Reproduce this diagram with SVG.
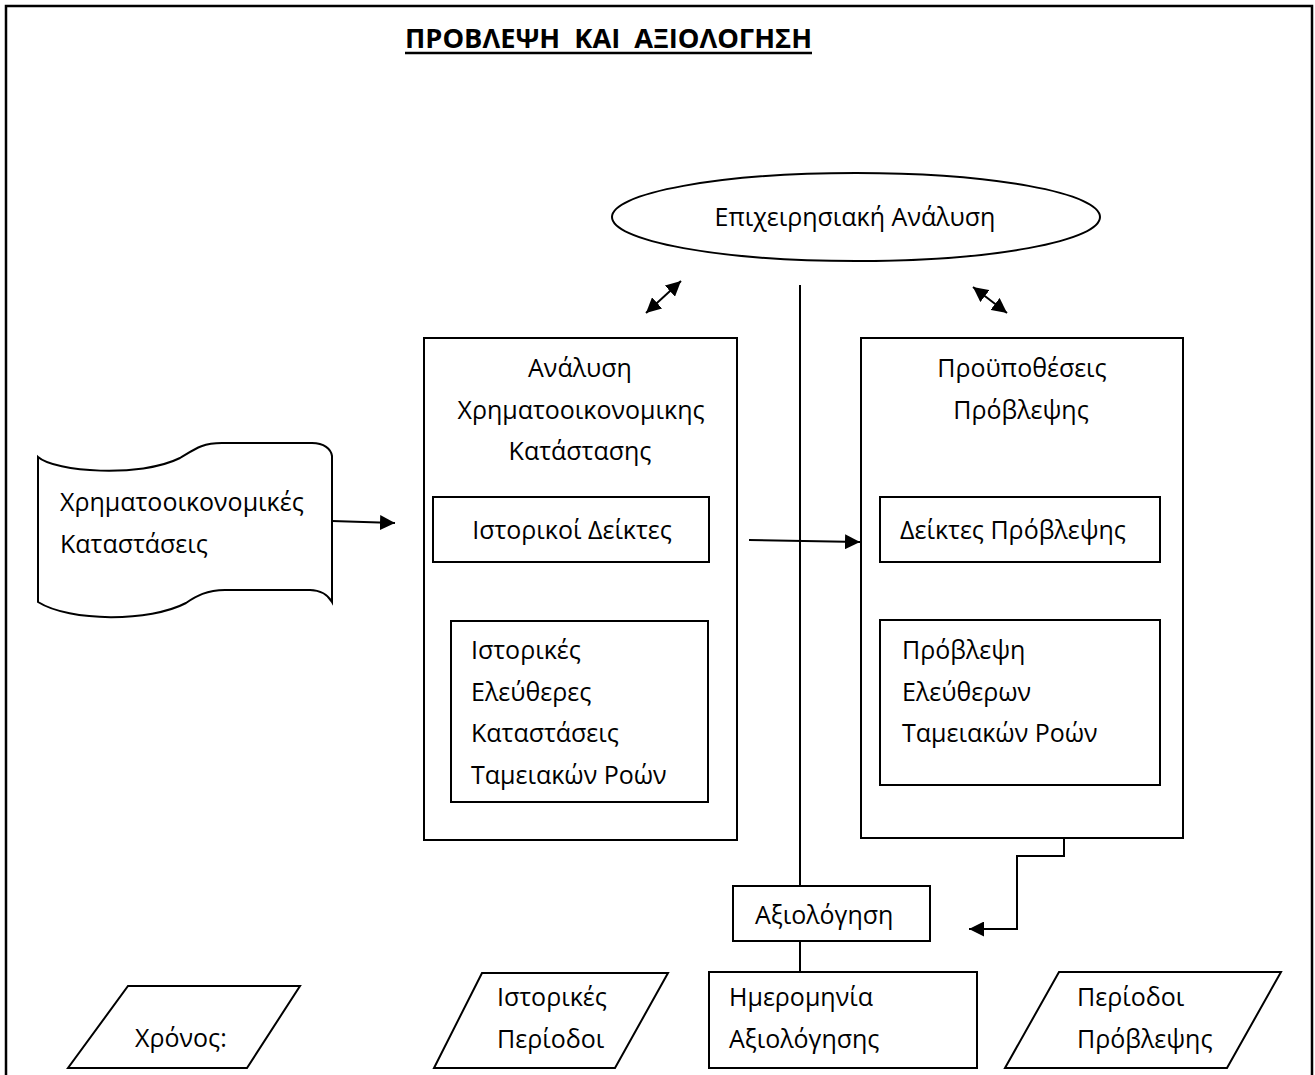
<svg xmlns="http://www.w3.org/2000/svg" width="1315" height="1075" viewBox="0 0 1315 1075">
<defs>
<style>
.s{fill:none;stroke:#000;stroke-width:2}
.b{fill:#fff;stroke:#000;stroke-width:2}
.t{font-family:"Open Sans","Noto Sans","DejaVu Sans",sans-serif;font-size:25px;fill:#000}
.m{text-anchor:middle}
.title{font-family:"Open Sans","Noto Sans","DejaVu Sans",sans-serif;font-size:27px;font-weight:bold;fill:#000}
.c{fill:none;stroke:#000;stroke-width:2}
</style>
<marker id="ah" viewBox="0 0 10 10" refX="10" refY="5" markerWidth="7.5" markerHeight="7.5" markerUnits="strokeWidth" orient="auto-start-reverse">
<path d="M0,0 L10,5 L0,10 Z" fill="#000"/>
</marker>
</defs>
<rect x="0" y="0" width="1315" height="1075" fill="#fff"/>
<path d="M6,1075 L6,6 L1312,6 L1312,1075" fill="none" stroke="#000" stroke-width="2.5"/>

<g id="title">
<text class="title" x="405" y="48" xml:space="preserve" textLength="407" lengthAdjust="spacingAndGlyphs">ΠΡΟΒΛΕΨΗ  ΚΑΙ  ΑΞΙΟΛΟΓΗΣΗ</text>
<line x1="405" y1="53" x2="812" y2="53" stroke="#000" stroke-width="2.5"/>
</g>

<g id="connectors">
<line class="c" x1="800" y1="285" x2="800" y2="886"/>
<line class="c" x1="800" y1="941" x2="800" y2="972"/>
<line class="c" x1="646" y1="313" x2="681" y2="281" marker-start="url(#ah)" marker-end="url(#ah)"/>
<line class="c" x1="973" y1="287" x2="1007" y2="313" marker-start="url(#ah)" marker-end="url(#ah)"/>
<line class="c" x1="332" y1="521" x2="395" y2="523" marker-end="url(#ah)"/>
<line class="c" x1="749" y1="540" x2="860" y2="542" marker-end="url(#ah)"/>
<line class="c" x1="570" y1="604" x2="570" y2="578" marker-end="url(#ah)"/>
<line class="c" x1="1021" y1="578" x2="1021" y2="604" marker-end="url(#ah)"/>
<polyline class="c" points="1064,839 1064,856 1017,856 1017,929 969,929" marker-end="url(#ah)"/>
</g>

<g id="epixeirisiaki">
<ellipse class="b" cx="856" cy="217" rx="244" ry="44"/>
<text class="t m" x="855" y="226">Επιχειρησιακή Ανάλυση</text>
</g>

<g id="xrimatooikonomikes">
<path class="b" d="M38,457 C55,472 140,478 180,458 C195,449 202,443 222,443 L312,443 C324,443 331,449 332,456 L332,602 C328,595 320,590 310,590 L225,590 C207,590 196,596 186,603 C150,622 70,622 38,602 Z"/>
<text class="t" x="60" y="511">Χρηματοοικονομικές</text>
<text class="t" x="60" y="553">Καταστάσεις</text>
</g>

<g id="analysi">
<rect class="b" x="424" y="338" width="313" height="502"/>
<text class="t m" x="580" y="377">Ανάλυση</text>
<text class="t m" x="581" y="419">Χρηματοοικονομικης</text>
<text class="t m" x="580" y="460">Κατάστασης</text>
</g>

<g id="istorikoi-deiktes">
<rect class="b" x="433" y="497" width="276" height="65"/>
<text class="t m" x="572" y="539">Ιστορικοί Δείκτες</text>
</g>

<g id="istorikes-roes">
<rect class="b" x="451" y="621" width="257" height="181"/>
<text class="t" x="471" y="659">Ιστορικές</text>
<text class="t" x="471" y="701">Ελεύθερες</text>
<text class="t" x="471" y="742">Καταστάσεις</text>
<text class="t" x="471" y="784">Ταμειακών Ροών</text>
</g>

<g id="proypotheseis">
<rect class="b" x="861" y="338" width="322" height="500"/>
<text class="t m" x="1022" y="377">Προϋποθέσεις</text>
<text class="t m" x="1021" y="419">Πρόβλεψης</text>
</g>

<g id="deiktes-provlepsis">
<rect class="b" x="880" y="497" width="280" height="65"/>
<text class="t m" x="1013" y="539">Δείκτες Πρόβλεψης</text>
</g>

<g id="provlepsi-roes">
<rect class="b" x="880" y="620" width="280" height="165"/>
<text class="t" x="902" y="659">Πρόβλεψη</text>
<text class="t" x="902" y="701">Ελεύθερων</text>
<text class="t" x="902" y="742">Ταμειακών Ροών</text>
</g>

<g id="axiologisi">
<rect class="b" x="733" y="886" width="197" height="55"/>
<text class="t" x="755" y="924">Αξιολόγηση</text>
</g>

<g id="xronos">
<polygon class="b" points="128,986 300,986 247,1068 68,1068"/>
<text class="t" x="135" y="1047">Χρόνος:</text>
</g>

<g id="istorikes-periodoi">
<polygon class="b" points="482,973 668,973 615,1068 434,1068"/>
<text class="t" x="497" y="1006">Ιστορικές</text>
<text class="t" x="497" y="1048">Περίοδοι</text>
</g>

<g id="imerominia">
<rect class="b" x="709" y="972" width="268" height="96"/>
<text class="t" x="729" y="1006">Ημερομηνία</text>
<text class="t" x="729" y="1048">Αξιολόγησης</text>
</g>

<g id="periodoi-provlepsis">
<polygon class="b" points="1059,972 1281,972 1227,1068 1005,1068"/>
<text class="t" x="1077" y="1006">Περίοδοι</text>
<text class="t" x="1077" y="1048">Πρόβλεψης</text>
</g>
</svg>
